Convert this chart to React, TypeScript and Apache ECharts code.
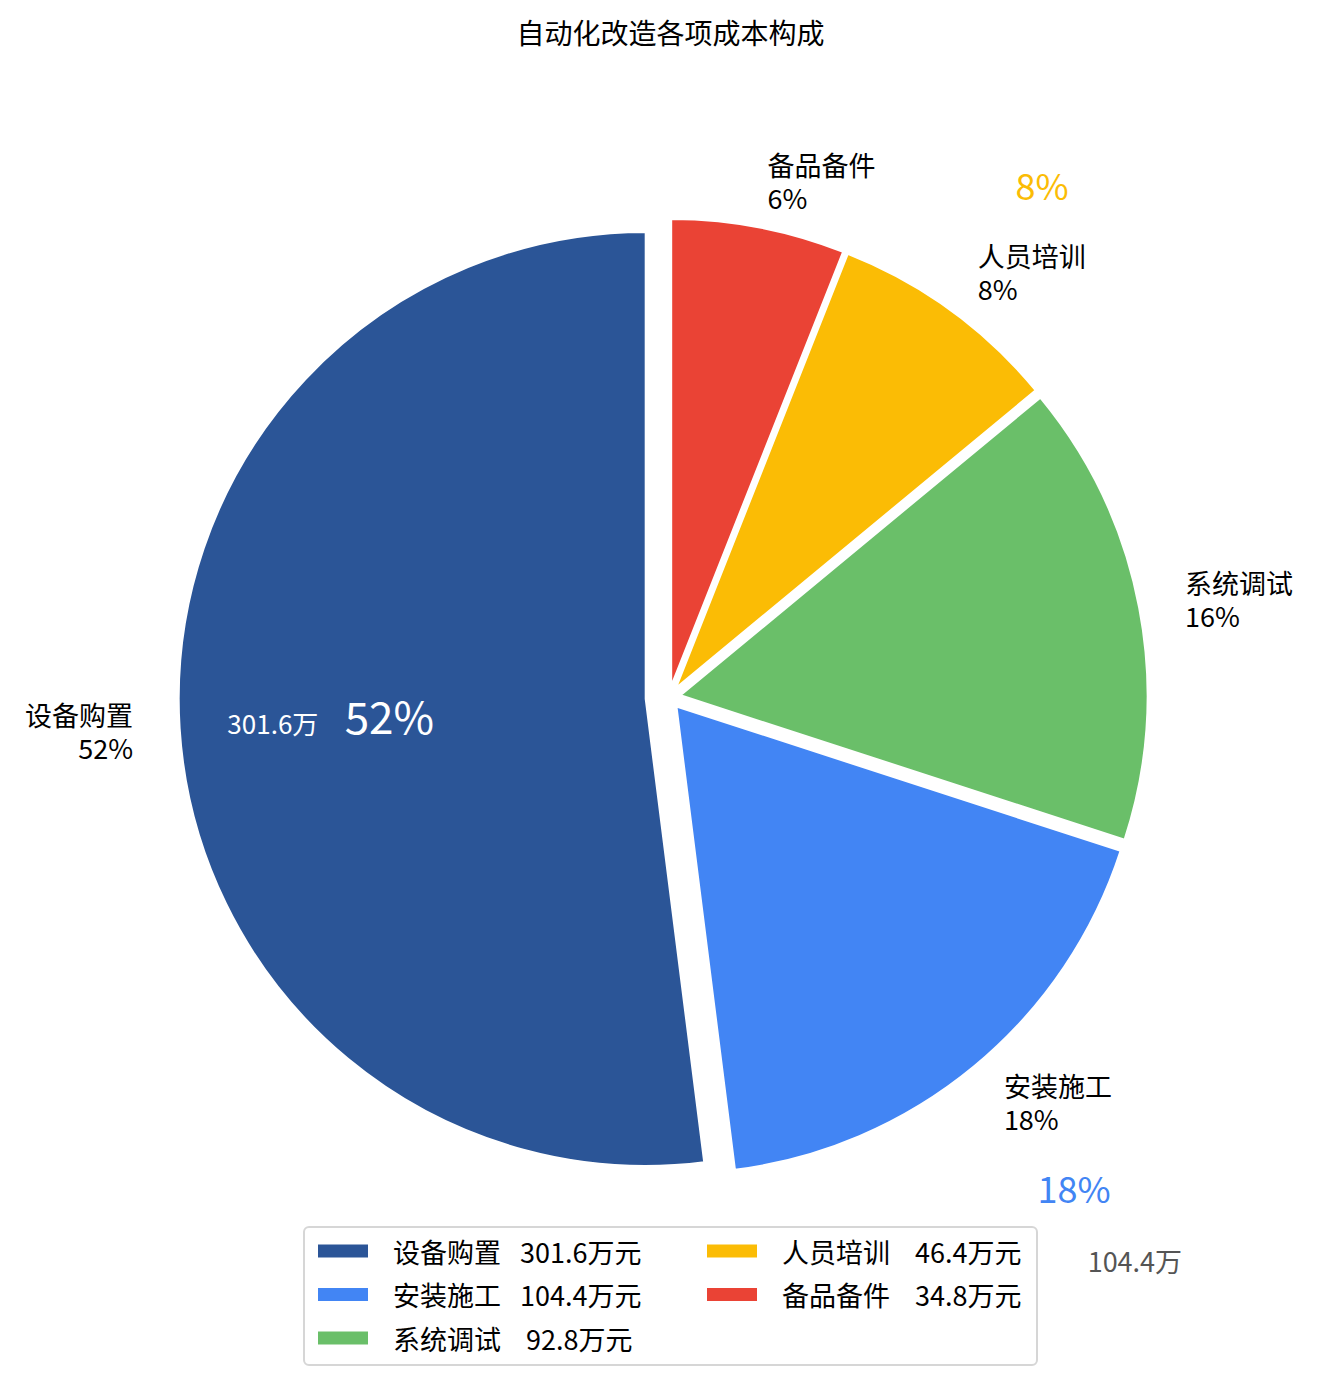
import React, { useEffect, useRef } from "react";
import * as echarts from "echarts";

const TITLE = "自动化改造各项成本构成";
const categories = ["设备购置", "安装施工", "系统调试", "人员培训", "备品备件"];
const values = [301.6, 104.4, 92.8, 46.4, 34.8];
const colors = ["#2B5597", "#4285F4", "#6ABF69", "#FBBC05", "#EA4335"];
const explode = [0.05, 0.025, 0.025, 0.025, 0.025];
const legendCol1 = ["设备购置", "安装施工", "系统调试"];
const legendCol2 = ["人员培训", "备品备件"];
// extra annotations drawn relative to a slice: kind, distance (fraction of radius), colour, font size
const annotations = [
  { slice: 0, kind: "pct", dist: 0.55, color: "#ffffff", size: 44 },
  { slice: 0, kind: "value", dist: 0.8, color: "#ffffff", size: 26 },
  { slice: 3, kind: "pct", dist: 1.334, color: "#FBBC05", size: 36 },
  { slice: 1, kind: "pct", dist: 1.336, color: "#4285F4", size: 36 },
  { slice: 1, kind: "value", dist: 1.54, color: "#555555", size: 27 },
];

const FONT = '"Noto Sans CJK SC", "Noto Sans", sans-serif';
const W = 1317;
const H = 1386;
const CX = 669;
const CY = 697.5;
const R = 467;

function buildOption() {
  const total = values.reduce((a, b) => a + b, 0);
  let cum = 0;
  const geo = values.map((v, i) => {
    const start = 90 + (cum / total) * 360;
    const span = (v / total) * 360;
    cum += v;
    const mid = ((start + span / 2) * Math.PI) / 180;
    const off = explode[i] * R;
    const cx = CX + off * Math.cos(mid);
    const cy = CY - off * Math.sin(mid);
    return { start, mid, cx, cy };
  });

  const series = values.map((v, i) => ({
    type: "pie",
    name: `slice-${i}`,
    center: [geo[i].cx, geo[i].cy],
    radius: R,
    startAngle: geo[i].start % 360,
    clockwise: false,
    avoidLabelOverlap: false,
    silent: true,
    emphasis: { disabled: true },
    label: {
      show: true,
      position: "outside",
      distanceToLabelLine: 0,
      fontSize: 27,
      lineHeight: 33,
      color: "#000",
      fontFamily: FONT,
      formatter: (p: any) =>
        p.dataIndex === 0 ? `${p.name}\n${Math.round(p.percent)}%` : "",
    },
    labelLine: { show: false, length: 0.1 * R, length2: 0 },
    data: [
      {
        name: categories[i],
        value: v,
        itemStyle: { color: colors[i], borderColor: "#ffffff", borderWidth: 2 },
      },
      {
        name: "",
        value: total - v,
        itemStyle: { color: "rgba(0,0,0,0)", borderWidth: 0 },
        label: { show: false },
        labelLine: { show: false },
      },
    ],
  }));

  const legendFormatter = (name: string) => {
    const idx = categories.indexOf(name);
    const val = values[idx].toFixed(1).padStart(5, "\u00A0");
    return `{g|\u00A0}${name}{s|\u00A0}${val}万元`;
  };
  const legendBase = {
    orient: "vertical",
    top: 1236,
    padding: 0,
    itemWidth: 52,
    itemHeight: 15,
    itemGap: 13.5,
    icon: "rect",
    selectedMode: false,
    formatter: legendFormatter,
    textStyle: {
      fontSize: 27,
      lineHeight: 30,
      color: "#000",
      fontFamily: FONT,
      rich: {
        g: { width: 19, fontSize: 27, fontFamily: FONT },
        s: { width: 19, fontSize: 27, fontFamily: FONT },
      },
    },
  };

  const graphics: any[] = [
    {
      type: "rect",
      shape: { x: 304, y: 1227, width: 733, height: 138, r: 5 },
      style: { fill: "rgba(255,255,255,0.8)", stroke: "#d6d6d6", lineWidth: 2 },
      silent: true,
      z: 0,
    },
  ];
  annotations.forEach((a) => {
    const g = geo[a.slice];
    const x = g.cx + a.dist * R * Math.cos(g.mid);
    const y = g.cy - a.dist * R * Math.sin(g.mid);
    const text =
      a.kind === "pct"
        ? `${Math.round((values[a.slice] / total) * 100)}%`
        : `${values[a.slice]}万`;
    graphics.push({
      type: "text",
      x,
      y,
      z: 100,
      silent: true,
      style: {
        text,
        fill: a.color,
        fontSize: a.size,
        fontFamily: FONT,
        align: "center",
        verticalAlign: "middle",
      },
    });
  });

  return {
    animation: false,
    backgroundColor: "#ffffff",
    color: colors,
    title: {
      text: TITLE,
      left: 670.5,
      top: 17,
      padding: 0,
      textAlign: "center",
      textStyle: {
        fontSize: 28,
        fontWeight: "normal",
        color: "#000",
        lineHeight: 30,
        fontFamily: FONT,
      },
    },
    legend: [
      { ...legendBase, left: 316, data: legendCol1 },
      { ...legendBase, left: 705, data: legendCol2 },
    ],
    graphic: graphics,
    series,
  };
}

export default function App() {
  const ref = useRef<HTMLDivElement>(null);
  useEffect(() => {
    if (!ref.current) return;
    const chart = echarts.init(ref.current, undefined, { renderer: "svg" });
    chart.setOption(buildOption() as any);
    return () => chart.dispose();
  }, []);
  return (
    <div
      ref={ref}
      style={{
        position: "fixed",
        left: 0,
        top: 0,
        width: W,
        height: H,
        background: "#fff",
      }}
    />
  );
}
